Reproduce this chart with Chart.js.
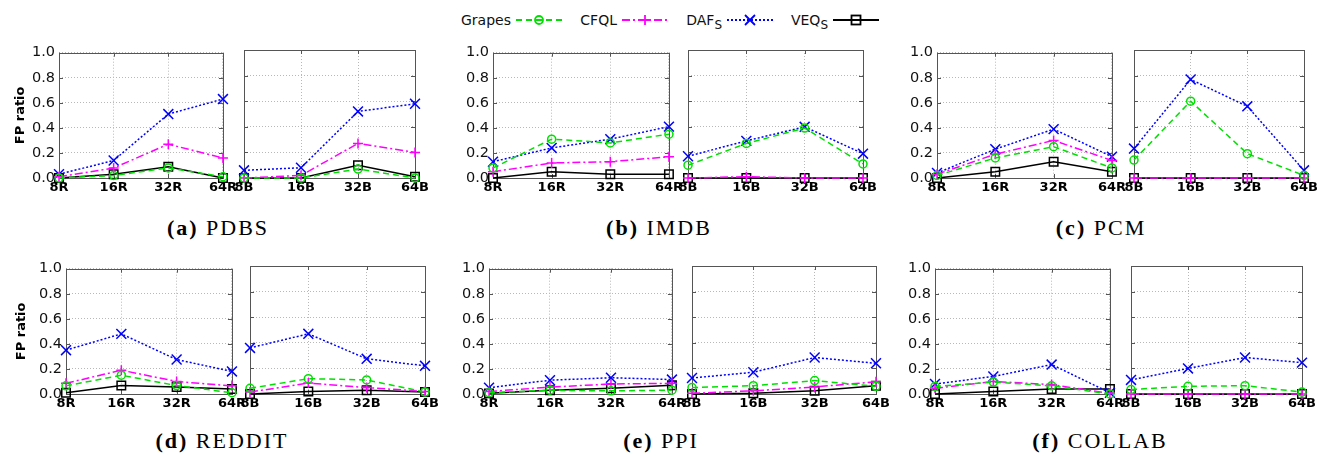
<!DOCTYPE html>
<html>
<head>
<meta charset="utf-8">
<script src="https://cdn.jsdelivr.net/npm/chart.js@4.4.1/dist/chart.umd.min.js"></script>
<style>
  body { margin: 0; background: #fff; }
  #fig { position: relative; width: 1325px; height: 456px; overflow: hidden; font-family: "DejaVu Sans", sans-serif; }
  #fig canvas { position: absolute; }
  .cap { position: absolute; transform: translateX(-50%); white-space: nowrap;
         font-family: "Liberation Serif", serif; font-size: 22px; letter-spacing: 2px; line-height: 24px; color: #000; }
  .key-text { position: absolute; top: 11px; font-size: 14px; line-height: 18px; transform: translateX(-100%); white-space: nowrap; color: #111; }
  .key-text sub { font-size: 12px; vertical-align: -4px; }
  .key-line { position: absolute; top: 12px; }
</style>
</head>
<body>
<div id="fig"></div>
<script>
const seriesNames = ["Grapes", "CFQL", "DAF", "VEQ"];
const seriesSubs = ["", "", "S", "S"];
const labelsR = ["8R", "16R", "32R", "64R"];
const labelsB = ["8B", "16B", "32B", "64B"];
const yTicks = [0, 0.2, 0.4, 0.6, 0.8, 1.0];

// FP ratio, rows in series order: Grapes, CFQL, DAF_S, VEQ_S
const pdbsR = [[0.0, 0.02, 0.08, 0.01], [0.01, 0.08, 0.27, 0.16], [0.03, 0.14, 0.51, 0.63], [0.0, 0.03, 0.09, 0.0]];
const pdbsB = [[0.0, 0.0, 0.07, 0.0], [0.0, 0.02, 0.27, 0.20], [0.06, 0.08, 0.52, 0.58], [0.0, 0.0, 0.10, 0.01]];
const imdbR = [[0.08, 0.31, 0.28, 0.35], [0.05, 0.12, 0.13, 0.17], [0.13, 0.24, 0.31, 0.41], [0.0, 0.05, 0.03, 0.03]];
const imdbB = [[0.10, 0.27, 0.39, 0.11], [0.0, 0.01, 0.0, 0.0], [0.17, 0.29, 0.40, 0.19], [0.0, 0.0, 0.0, 0.0]];
const pcmR = [[0.02, 0.16, 0.25, 0.08], [0.03, 0.19, 0.30, 0.14], [0.04, 0.23, 0.39, 0.17], [0.0, 0.05, 0.13, 0.05]];
const pcmB = [[0.14, 0.60, 0.19, 0.02], [0.0, 0.0, 0.0, 0.0], [0.23, 0.77, 0.56, 0.06], [0.0, 0.0, 0.0, 0.0]];
const redditR = [[0.065, 0.15, 0.067, 0.01], [0.085, 0.19, 0.10, 0.065], [0.35, 0.48, 0.275, 0.18], [0.01, 0.067, 0.055, 0.04]];
const redditB = [[0.045, 0.12, 0.11, 0.015], [0.015, 0.085, 0.05, 0.02], [0.36, 0.47, 0.275, 0.22], [0.0, 0.02, 0.03, 0.015]];
const ppiR = [[0.01, 0.03, 0.025, 0.03], [0.02, 0.055, 0.08, 0.085], [0.05, 0.11, 0.13, 0.115], [0.005, 0.03, 0.045, 0.07]];
const ppiB = [[0.05, 0.065, 0.105, 0.06], [0.005, 0.025, 0.055, 0.095], [0.125, 0.17, 0.285, 0.24], [0.0, 0.005, 0.025, 0.065]];
const collabR = [[0.06, 0.095, 0.065, 0.0], [0.045, 0.10, 0.075, 0.005], [0.08, 0.14, 0.235, 0.01], [0.0, 0.02, 0.04, 0.04]];
const collabB = [[0.035, 0.06, 0.065, 0.015], [0.0, 0.0, 0.0, 0.0], [0.11, 0.20, 0.285, 0.245], [0.0, 0.0, 0.0, 0.0]];

const captions = [
  { tag: "(a)", name: "PDBS", x: 218, y: 216 },
  { tag: "(b)", name: "IMDB", x: 659, y: 216 },
  { tag: "(c)", name: "PCM", x: 1101, y: 216 },
  { tag: "(d)", name: "REDDIT", x: 222, y: 429 },
  { tag: "(e)", name: "PPI", x: 661, y: 429 },
  { tag: "(f)", name: "COLLAB", x: 1100, y: 429 }
];

const seriesStyles = [
  { color: "#00e000", dash: [6, 4], pointStyle: "circle", radius: 4 },
  { color: "#ff00ff", dash: [8, 3, 2, 3], pointStyle: "cross", radius: 5 },
  { color: "#0000ff", dash: [2, 2], pointStyle: "crossRot", radius: 7 },
  { color: "#000000", dash: [], pointStyle: "rect", radius: 6 }
];

// plot-area boxes for each panel (left, right, top), height is shared
const panels = [
  { data: pdbsR, labels: labelsR, left: 59, right: 223, top: 50, padL: 46, yLabels: true, title: true },
  { data: pdbsB, labels: labelsB, left: 244, right: 415, top: 50 },
  { data: imdbR, labels: labelsR, left: 493, right: 669, top: 50, padL: 46, yLabels: true },
  { data: imdbB, labels: labelsB, left: 688, right: 863, top: 50 },
  { data: pcmR, labels: labelsR, left: 937, right: 1112, top: 50, padL: 46, yLabels: true },
  { data: pcmB, labels: labelsB, left: 1134, right: 1304, top: 50 },
  { data: redditR, labels: labelsR, left: 66, right: 232, top: 266, padL: 52, yLabels: true, title: true },
  { data: redditB, labels: labelsB, left: 250, right: 425, top: 266 },
  { data: ppiR, labels: labelsR, left: 489, right: 672, top: 266, padL: 46, yLabels: true },
  { data: ppiB, labels: labelsB, left: 692, right: 876, top: 266 },
  { data: collabR, labels: labelsR, left: 935, right: 1110, top: 266, padL: 46, yLabels: true },
  { data: collabB, labels: labelsB, left: 1131, right: 1302, top: 266 }
];

const PLOT_H = 128;
const fig = document.getElementById("fig");

// gnuplot-like frame with inward ticks on every side
const framePlugin = {
  id: "frame",
  beforeDatasetsDraw(chart) {
    const { ctx, chartArea: a, scales } = chart;
    ctx.save();
    ctx.strokeStyle = "#555";
    ctx.lineWidth = 1;
    ctx.beginPath();
    yTicks.forEach(v => {
      const py = Math.round(scales.y.getPixelForValue(v)) + 0.5;
      ctx.moveTo(a.left, py); ctx.lineTo(a.left + 4, py);
      ctx.moveTo(a.right, py); ctx.lineTo(a.right - 4, py);
    });
    scales.x.ticks.forEach((t, i) => {
      const px = Math.round(scales.x.getPixelForTick(i)) + 0.5;
      ctx.moveTo(px, a.bottom); ctx.lineTo(px, a.bottom - 4);
      ctx.moveTo(px, a.top); ctx.lineTo(px, a.top + 4);
    });
    ctx.stroke();
    ctx.strokeRect(Math.round(a.left) + 0.5, Math.round(a.top) + 0.5,
      Math.round(a.right - a.left), Math.round(a.bottom - a.top));
    ctx.restore();
  }
};

function makePanel(p) {
  const padT = 10, padR = 16, padB = 24;
  const padL = p.padL || 16;
  const canvas = document.createElement("canvas");
  canvas.width = (p.right - p.left) + padL + padR;
  canvas.height = PLOT_H + padT + padB;
  canvas.style.left = (p.left - padL) + "px";
  canvas.style.top = (p.top - padT) + "px";
  fig.appendChild(canvas);

  const datasets = p.data.map((vals, i) => {
    const s = seriesStyles[i];
    return {
      label: seriesNames[i] + seriesSubs[i],
      data: vals,
      borderColor: s.color,
      borderDash: s.dash,
      borderWidth: 1.5,
      pointStyle: s.pointStyle,
      pointRadius: s.radius,
      pointBorderColor: s.color,
      pointBackgroundColor: "rgba(0,0,0,0)",
      pointBorderWidth: 1.5,
      tension: 0,
      clip: false
    };
  });

  new Chart(canvas, {
    type: "line",
    data: { labels: p.labels, datasets },
    options: {
      responsive: false,
      animation: false,
      devicePixelRatio: 1,
      events: [],
      layout: { padding: { top: padT, right: padR, left: 0, bottom: 0 } },
      plugins: { legend: { display: false }, tooltip: { enabled: false } },
      scales: {
        x: {
          afterFit: s => { s.height = padB; },
          grid: { color: "#b8b8b8", lineWidth: 1, drawTicks: false },
          border: { display: false, dash: [1, 2] },
          ticks: {
            autoSkip: false, maxRotation: 0, padding: 2, color: "#000",
            font: { family: "DejaVu Sans", size: 13, weight: "bold" }
          }
        },
        y: {
          min: 0, max: 1,
          afterBuildTicks: s => { s.ticks = yTicks.map(v => ({ value: v })); },
          afterFit: s => { s.width = padL; },
          grid: { color: "#b8b8b8", lineWidth: 1, drawTicks: false },
          border: { display: false, dash: [1, 2] },
          ticks: {
            display: !!p.yLabels, padding: 4, color: "#111",
            font: { family: "DejaVu Sans", size: 14.5 },
            callback: v => Number(v).toFixed(1)
          },
          title: {
            display: !!p.title, text: "FP ratio", color: "#000",
            padding: { top: 0, bottom: 0 },
            font: { family: "DejaVu Sans", size: 13, weight: "bold" }
          }
        }
      }
    },
    plugins: [framePlugin]
  });
}

panels.forEach(makePanel);

// key row across the top
const keyTextEnds = [511, 617, 722, 828];
keyTextEnds.forEach((xEnd, i) => {
  const s = seriesStyles[i];
  const t = document.createElement("div");
  t.className = "key-text";
  t.style.left = xEnd + "px";
  t.innerHTML = seriesNames[i] + (seriesSubs[i] ? "<sub>" + seriesSubs[i] + "</sub>" : "");
  fig.appendChild(t);

  const w = 50, h = 16, cx = w / 2, cy = h / 2;
  let marker = "";
  if (s.pointStyle === "circle") marker = `<circle cx="${cx}" cy="${cy}" r="4" fill="none"/>`;
  if (s.pointStyle === "cross") marker = `<path d="M${cx - 5} ${cy}H${cx + 5}M${cx} ${cy - 5}V${cy + 5}"/>`;
  if (s.pointStyle === "crossRot") marker = `<path d="M${cx - 5} ${cy - 5}L${cx + 5} ${cy + 5}M${cx - 5} ${cy + 5}L${cx + 5} ${cy - 5}"/>`;
  if (s.pointStyle === "rect") marker = `<rect x="${cx - 4.5}" y="${cy - 4.5}" width="9" height="9" fill="none"/>`;
  const line = document.createElement("div");
  line.className = "key-line";
  line.style.left = (xEnd + 3) + "px";
  line.innerHTML = `<svg width="${w}" height="${h}" stroke="${s.color}" stroke-width="1.8">
    <line x1="2" y1="${cy}" x2="${w - 2}" y2="${cy}" stroke-dasharray="${s.dash.join(" ") || "none"}"/>
    <g stroke-dasharray="none">${marker}</g></svg>`;
  fig.appendChild(line);
});

captions.forEach(c => {
  const d = document.createElement("div");
  d.className = "cap";
  d.style.left = c.x + "px";
  d.style.top = c.y + "px";
  d.innerHTML = `<b>${c.tag}</b> ${c.name}`;
  fig.appendChild(d);
});
</script>
</body>
</html>
